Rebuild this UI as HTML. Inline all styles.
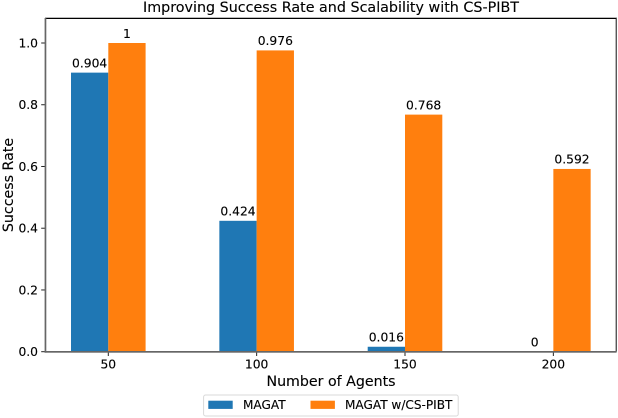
<!DOCTYPE html>
<html>
<head>
<meta charset="utf-8">
<style>
html,body{margin:0;padding:0;background:#fff;width:618px;height:418px;overflow:hidden}
svg{display:block;filter:blur(0.25px)}
text{font-family:"DejaVu Sans",sans-serif;fill:#000;stroke:#000;stroke-width:0.12px}
</style>
</head>
<body>
<svg id="chart" xmlns="http://www.w3.org/2000/svg" width="618" height="418" viewBox="0 0 618 418">
<text x="331" y="12" font-size="14.3" text-anchor="middle">Improving Success Rate and Scalability with CS-PIBT</text>
<g id="bars"></g>
<g id="labels"></g>
<g id="xaxis"></g>
<g id="yaxis"></g>
<g>
<rect x="45" y="17" width="572" height="1" fill="#bbb"/>
<rect x="45" y="18" width="571.5" height="1" fill="#000"/>
<rect x="615.7" y="18" width="1" height="334" fill="#111"/>
<rect x="44.6" y="18" width="1.7" height="334.6" fill="#666"/>
<rect x="44.6" y="351" width="572" height="1.7" fill="#666"/>
</g>
<text x="331" y="386" font-size="14.2" text-anchor="middle">Number of Agents</text>
<text transform="translate(12.8,185) rotate(-90)" font-size="14.2" text-anchor="middle">Success Rate</text>
<g>
<rect x="203.6" y="395" width="254.6" height="21" rx="2" fill="#fff" stroke="#d9d9d9" stroke-width="1"/>
<rect x="208.3" y="400.7" width="24.4" height="8.2" fill="#1f77b4"/>
<text x="243" y="409" font-size="12.1">MAGAT</text>
<rect x="310.5" y="400.7" width="24.4" height="8.2" fill="#ff7f0e"/>
<text x="345" y="409" font-size="12.1">MAGAT w/CS-PIBT</text>
</g>
</svg>
<script>
const categories = [50, 100, 150, 200];
const magatValues = [0.904, 0.424, 0.016, 0];
const csPibtValues = [1, 0.976, 0.768, 0.592];
const magatLabels = ["0.904", "0.424", "0.016", "0"];
const csPibtLabels = ["1", "0.976", "0.768", "0.592"];
const yTickLabels = ["0.0", "0.2", "0.4", "0.6", "0.8", "1.0"];

const NS = "http://www.w3.org/2000/svg";
const xOf = i => 108.3 + i * 148.35;
const yOf = v => 351.7 - v * 308.7;
const barW = 37.3;

function mk(tag, parent, attrs) {
  const el = document.createElementNS(NS, tag);
  for (const k in attrs) el.setAttribute(k, attrs[k]);
  parent.appendChild(el);
  return el;
}
const barsG = document.getElementById('bars');
const labelsG = document.getElementById('labels');
const xG = document.getElementById('xaxis');
const yG = document.getElementById('yaxis');

categories.forEach((c, i) => {
  const b1 = mk('rect', barsG, {x: xOf(i) - barW, y: yOf(magatValues[i]), width: barW, height: Math.max(0, yOf(0) - yOf(magatValues[i])), fill: '#1f77b4'});
  
  
  const b2 = mk('rect', barsG, {x: xOf(i), y: yOf(csPibtValues[i]), width: barW, height: Math.max(0, yOf(0) - yOf(csPibtValues[i])), fill: '#ff7f0e'});
  
  
  const t1 = mk('text', labelsG, {x: xOf(i) - barW / 2, y: yOf(magatValues[i]) - 5.2, 'font-size': 12.3, 'text-anchor': 'middle'});
  t1.textContent = magatLabels[i];
  
  
  const t2 = mk('text', labelsG, {x: xOf(i) + barW / 2, y: yOf(csPibtValues[i]) - 5.2, 'font-size': 12.3, 'text-anchor': 'middle'});
  t2.textContent = csPibtLabels[i];
  
  
  const tick = mk('line', xG, {x1: xOf(i), x2: xOf(i), y1: 351.7, y2: 356, stroke: '#222', 'stroke-width': 1});
  
  
  const tl = mk('text', xG, {x: xOf(i), y: 368.5, 'font-size': 12.3, 'text-anchor': 'middle'});
  tl.textContent = c;
  
  
});
yTickLabels.forEach(l => {
  const v = parseFloat(l);
  const tick = mk('line', yG, {x1: 41.2, x2: 45, y1: yOf(v), y2: yOf(v), stroke: '#222', 'stroke-width': 1});
  
  
  const tl = mk('text', yG, {x: 38, y: yOf(v) + 4.5, 'font-size': 12.3, 'text-anchor': 'end'});
  tl.textContent = l;
  
  
});
</script>
</body>
</html>
